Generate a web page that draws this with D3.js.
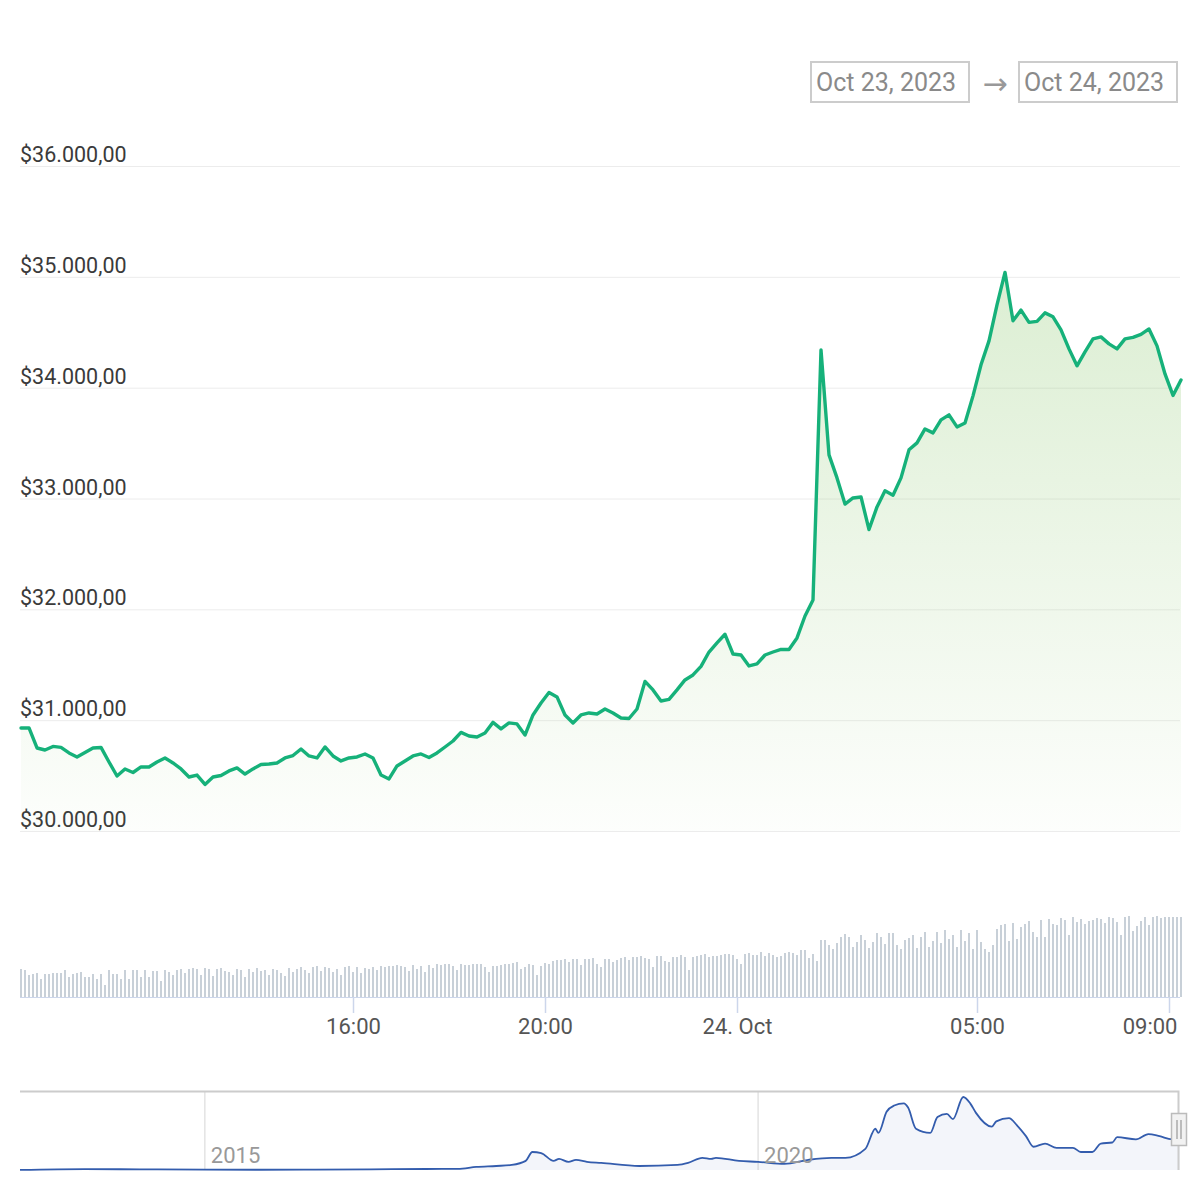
<!DOCTYPE html>
<html><head><meta charset="utf-8">
<script src="https://cdn.jsdelivr.net/npm/d3@7"></script>
<style>body{margin:0;background:#fff;} svg{display:block;font-family:Roboto, "Noto Sans", sans-serif;}</style>
</head><body>
<svg id="chart" width="1200" height="1200"></svg>
<script>
// ---------- data ----------
const priceStart = Date.UTC(2023, 9, 23, 9, 5);
const priceEnd = Date.UTC(2023, 9, 24, 9, 15);
const priceStepMinutes = 10;
const prices = [
  30930,30930,30749,30731,30763,30754,30704,30668,30708,30749,
  30754,30623,30496,30560,30528,30578,30578,30623,30659,30614,
  30560,30487,30505,30420,30487,30501,30542,30569,30514,30560,
  30600,30605,30614,30659,30681,30740,30677,30659,30758,30677,
  30632,30659,30668,30695,30659,30505,30470,30587,30632,30677,
  30695,30663,30704,30758,30812,30890,30857,30848,30884,30980,
  30921,30975,30966,30866,31047,31155,31250,31210,31047,30975,
  31047,31065,31056,31101,31065,31020,31015,31101,31350,31273,
  31173,31187,31273,31363,31408,31485,31615,31697,31775,31597,
  31588,31489,31507,31588,31615,31638,31638,31742,31940,32085,
  34340,33394,33186,32950,33005,33014,32720,32924,33069,33030,
  33186,33439,33502,33628,33592,33709,33755,33646,33682,33926,
  34206,34422,34747,35040,34603,34700,34589,34598,34675,34639,
  34522,34350,34197,34323,34440,34458,34395,34350,34440,34454,
  34481,34530,34377,34124,33930,34070
];
const volumeStepMinutes = 5;
const volumes = [
  28,27,22,23,24,18,23,23,24,24,24,27,20,23,24,25,20,20,23,18,23,12,27,23,23,18,27,18,27,27,20,27,20,26,26,16,27,
  25,22,27,28,24,28,29,28,22,29,28,21,28,29,26,25,22,28,27,20,28,25,29,26,27,22,28,27,24,21,29,25,28,30,27,24,30,31,26,30,29,25,28,22,30,
  31,25,30,24,29,28,30,27,31,30,31,31,32,31,30,26,32,28,31,25,32,29,33,32,33,33,31,27,33,32,32,33,33,33,30,25,31,31,32,33,33,34,35,28,30,33,32,22,31,
  34,33,36,37,37,38,35,38,38,32,38,38,39,33,30,38,38,35,37,39,40,37,40,40,41,39,38,30,41,41,36,35,40,40,42,40,27,40,41,42,43,40,41,41,42,43,43,42,38,
  33,43,44,42,42,45,41,44,42,40,41,44,45,44,42,47,47,39,43,36,
  57,57,52,48,54,60,63,60,50,55,62,57,49,55,64,60,53,64,64,52,48,57,59,62,49,60,65,50,
  56,65,54,67,58,62,50,67,56,64,48,67,55,48,45,52,68,72,73,56,74,58,70,73,76,65,60,77,60,
  78,73,72,79,77,62,80,75,78,73,76,77,79,78,74,80,79,75,62,80,81,66,71,76,80,72,80,81,79,80,80,80,80,80
];
const yTicks = [30000, 31000, 32000, 33000, 34000, 35000, 36000];
const xTickTimes = [Date.UTC(2023,9,23,16), Date.UTC(2023,9,23,20), Date.UTC(2023,9,24,0), Date.UTC(2023,9,24,5), Date.UTC(2023,9,24,9)];
const xTickLabels = ["16:00", "20:00", "24. Oct", "05:00", "09:00"];
const rangeLabels = ["Oct 23, 2023", "Oct 24, 2023"];
const navDates = ["2013-05-01","2013-12-01","2014-06-01","2015-01-01","2015-07-01","2016-01-01","2016-07-01","2017-01-01","2017-04-15","2017-06-15",
  "2017-08-20","2017-10-10","2017-11-25","2017-12-17","2018-01-15","2018-02-25","2018-03-15","2018-04-15","2018-05-10","2018-06-15",
  "2018-08-01","2018-12-05","2019-04-10","2019-05-15","2019-07-01","2019-07-30","2019-08-15","2019-10-30","2020-01-01","2020-03-28",
  "2020-06-15","2020-08-30","2020-10-15","2020-12-20","2021-01-22","2021-02-01","2021-02-28","2021-03-25","2021-04-26","2021-05-10",
  "2021-06-05","2021-07-22","2021-08-15","2021-09-15","2021-10-05","2021-11-08","2021-12-01","2021-12-20","2022-02-10","2022-02-25",
  "2022-04-08","2022-05-05","2022-06-03","2022-06-28","2022-08-05","2022-09-12","2022-11-05","2022-12-01","2023-01-08","2023-02-05",
  "2023-03-15","2023-03-31","2023-06-01","2023-07-12","2023-08-18","2023-09-28","2023-10-24"];
const navPrices = [100,900,600,300,250,400,650,950,1000,2900,
  3800,4800,8600,17000,16000,8600,10500,7700,9600,7700,
  6700,3800,4800,6700,11500,10500,11500,8600,7700,5700,
  9600,11500,11500,20000,39000,35000,55000,61000,63000,59000,
  39000,35000,50000,53000,48000,69000,63000,54000,41000,46000,
  49000,42000,32000,22000,25000,21000,21000,17000,17000,25000,
  26000,31000,29000,34000,32000,29000,30000];
const navYears = [2015, 2020];

// ---------- drawing ----------
const svg = d3.select("#chart");
const MIN = 60000;
const priceData = prices.map((p, i) => ({t: new Date(priceStart + i * priceStepMinutes * MIN), v: p}));
const volumeData = volumes.map((v, i) => ({t: new Date(priceStart + i * volumeStepMinutes * MIN), v: v}));

const x = d3.scaleUtc().domain([new Date(priceStart), new Date(priceEnd)]).range([21, 1181]);
const y = d3.scaleLinear().domain([30000, 36000]).range([831, 166]);
const yVol = d3.scaleLinear().domain([0, 81]).range([997, 916]);

const loc = d3.formatLocale({decimal: ",", thousands: ".", grouping: [3], currency: ["$", ""]});
const fmt = loc.format("$,.2f");

// gradient
const defs = svg.append("defs");
const grad = defs.append("linearGradient").attr("id", "g1").attr("gradientUnits", "userSpaceOnUse")
  .attr("x1", 0).attr("x2", 0).attr("y1", y(36000)).attr("y2", y(30000));
grad.append("stop").attr("offset", 0).attr("stop-color", "rgb(140,200,110)").attr("stop-opacity", 0.36);
grad.append("stop").attr("offset", 1).attr("stop-color", "rgb(140,200,110)").attr("stop-opacity", 0.02);

// gridlines and labels
const grid = svg.append("g");
grid.selectAll("line").data(yTicks).join("line")
  .attr("x1", 20).attr("x2", 1180).attr("y1", d => y(d) + 0.5).attr("y2", d => y(d) + 0.5)
  .attr("stroke", "#ececec").attr("stroke-width", 1);
grid.selectAll("text").data(yTicks).join("text")
  .attr("x", 20).attr("y", d => y(d) - 4)
  .attr("font-size", 21.5).attr("fill", "#3a3a3a").text(d => fmt(d));

// area + line
svg.append("path").datum(priceData)
  .attr("d", d3.area().x(d => x(d.t)).y0(y(30000)).y1(d => y(d.v)))
  .attr("fill", "url(#g1)");
svg.append("path").datum(priceData)
  .attr("d", d3.line().x(d => x(d.t)).y(d => y(d.v)))
  .attr("fill", "none").attr("stroke", "#16b17a").attr("stroke-width", 3.4)
  .attr("stroke-linejoin", "round").attr("stroke-linecap", "round");

// volume bars
svg.append("g").selectAll("rect").data(volumeData).join("rect")
  .attr("x", d => x(d.t) - 1).attr("width", 2)
  .attr("y", d => yVol(d.v)).attr("height", d => yVol(0) - yVol(d.v))
  .attr("fill", "#c8d0d8");

// x axis
svg.append("line").attr("x1", 20).attr("x2", 1180).attr("y1", 997.5).attr("y2", 997.5)
  .attr("stroke", "#ccd6eb").attr("stroke-width", 1);
const xAxis = d3.axisBottom(x)
  .tickValues(xTickTimes.map(d => new Date(d)))
  .tickFormat((d, i) => xTickLabels[i])
  .tickSize(16).tickSizeOuter(0).tickPadding(5);
const gx = svg.append("g").attr("transform", "translate(0,997)").call(xAxis);
gx.select(".domain").remove();
gx.selectAll(".tick line").attr("stroke", "#ccd6eb").attr("stroke-width", 1.5);
gx.selectAll(".tick text").attr("font-size", 22).attr("fill", "#555")
  .attr("font-family", "Roboto, 'Noto Sans', sans-serif");
// keep the last label inside the plot, as the reference does
gx.selectAll(".tick text").filter((d, i) => i === xTickTimes.length - 1)
  .attr("text-anchor", "end").attr("x", 1177 - x(new Date(xTickTimes[xTickTimes.length - 1])));

// date range boxes
const boxes = [{x: 811, label: rangeLabels[0]}, {x: 1019, label: rangeLabels[1]}];
const bx = svg.append("g").selectAll("g").data(boxes).join("g");
bx.append("rect").attr("x", d => d.x).attr("y", 62).attr("width", 158).attr("height", 40)
  .attr("fill", "#fff").attr("stroke", "#cccccc").attr("stroke-width", 2);
bx.append("text").attr("x", d => d.x + 5).attr("y", 91).attr("font-size", 25).attr("fill", "#8a8a8a")
  .text(d => d.label);
svg.append("text").attr("x", 995).attr("y", 94).attr("text-anchor", "middle")
  .attr("font-family", "'DejaVu Sans', sans-serif")
  .attr("font-size", 30).attr("fill", "#999").text("→");

// navigator
const navData = navDates.map((d, i) => ({t: new Date(d + "T00:00:00Z"), v: navPrices[i]}));
const navX = d3.scaleUtc().domain([new Date(Date.UTC(2013, 4, 1)), new Date(priceEnd)]).range([20, 1180]);
const navY = d3.scaleLinear().domain([0, 69000]).range([1170, 1097]);
const nav = svg.append("g");
nav.selectAll("line.ng").data(navYears).join("line").attr("class", "ng")
  .attr("x1", d => navX(new Date(Date.UTC(d, 0, 1)))).attr("x2", d => navX(new Date(Date.UTC(d, 0, 1))))
  .attr("y1", 1091).attr("y2", 1170).attr("stroke", "#e3e3e3").attr("stroke-width", 1.5);
nav.append("path").datum(navData)
  .attr("d", d3.area().curve(d3.curveMonotoneX).x(d => navX(d.t)).y0(1170).y1(d => navY(d.v)))
  .attr("fill", "rgba(51,92,173,0.06)");
nav.append("path").datum(navData)
  .attr("d", d3.line().curve(d3.curveMonotoneX).x(d => navX(d.t)).y(d => navY(d.v)))
  .attr("fill", "none").attr("stroke", "#335cad").attr("stroke-width", 1.8);
nav.selectAll("text").data(navYears).join("text")
  .attr("x", d => navX(new Date(Date.UTC(d, 0, 1))) + 6).attr("y", 1163)
  .attr("font-size", 22).attr("fill", "#999").text(d => d);
nav.append("path").attr("d", "M20,1091.5 H1178.5 V1170")
  .attr("fill", "none").attr("stroke", "#cccccc").attr("stroke-width", 2);
nav.append("rect").attr("x", 1171.5).attr("y", 1113.5).attr("width", 15).attr("height", 32)
  .attr("fill", "#f2f2f2").attr("stroke", "#bbbbbb").attr("stroke-width", 1.5);
nav.append("path").attr("d", "M1177,1120 V1139 M1181,1120 V1139")
  .attr("stroke", "#aaaaaa").attr("stroke-width", 1.5);
</script>
</body></html>
